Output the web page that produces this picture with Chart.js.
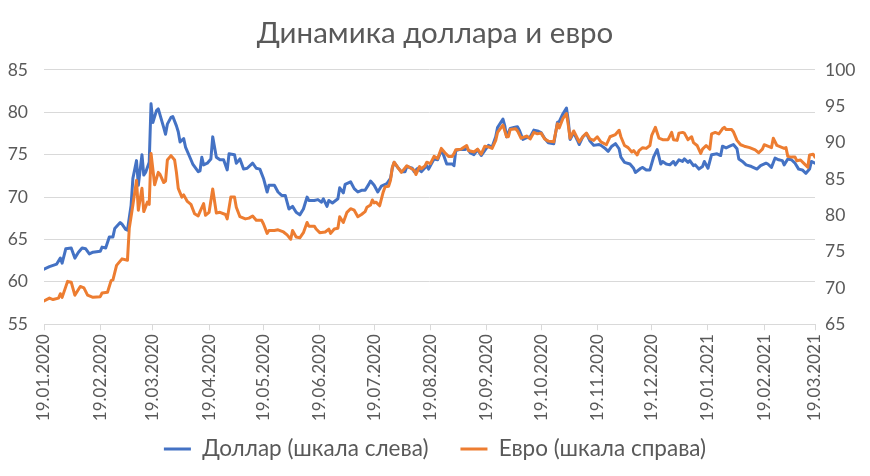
<!DOCTYPE html>
<html><head><meta charset="utf-8">
<script src="https://cdn.jsdelivr.net/npm/chart.js@4.4.1/dist/chart.umd.min.js"></script>
<style>html,body{margin:0;padding:0;background:#fff}</style>
</head><body>
<canvas id="c" width="870" height="476"></canvas>
<script>
// ---- data ----
const chartTitle = 'Динамика доллара и евро';
const seriesNames = ['Доллар (шкала слева)', 'Евро (шкала справа)'];
const startDate = '19.01.2020';
const tickDates = ['19.01.2020','19.02.2020','19.03.2020','19.04.2020','19.05.2020','19.06.2020','19.07.2020',
  '19.08.2020','19.09.2020','19.10.2020','19.11.2020','19.12.2020','19.01.2021','19.02.2021','19.03.2021'];
const leftTicks = [55, 60, 65, 70, 75, 80, 85];
const rightTicks = [65, 70, 75, 80, 85, 90, 95, 100];

// days since 19.01.2020 / USD rate
const usdDays = [0,3,7,9,10,12,15,17,19,21,23,25,27,31,32,34,36,38,39,42,43,45,46,48,49,51,52,54,55,56,58,59,
  60,62,63,66,67,68,70,71,73,74,75,77,78,80,82,85,86,87,88,90,92,93,95,97,99,101,102,105,106,108,110,112,115,117,119,
  121,123,124,127,129,131,133,135,137,139,141,143,145,146,149,151,153,154,156,157,159,162,163,165,166,169,171,173,175,177,179,180,
  182,184,186,189,191,192,193,195,197,199,200,203,204,206,208,211,212,214,215,217,219,220,222,225,226,227,229,232,233,235,237,239,241,243,
  245,247,249,250,253,254,255,257,259,261,262,264,266,268,270,272,274,276,278,281,283,284,286,288,289,290,292,294,295,297,299,301,303,
  306,307,309,311,313,315,317,318,320,323,325,326,329,330,332,334,336,338,340,341,343,345,347,348,350,352,353,355,356,358,359,361,363,364,
  366,368,371,373,374,376,378,380,382,383,385,387,390,393,395,398,399,401,403,405,407,408,410,412,414,416,418,420,422,423,425];
const usdValues = [61.5,61.8,62.1,62.8,62.2,63.9,64.0,62.8,63.5,64.0,63.9,63.3,63.5,63.6,64.1,64.0,65.3,65.3,66.3,67.0,66.8,66.2,66.1,69.0,72.2,74.3,71.4,75.0,72.6,72.9,74.1,81.0,
  78.8,80.2,80.4,78.2,77.4,78.6,79.4,79.5,78.4,77.7,76.5,76.9,75.9,74.9,73.9,73.0,73.1,74.7,73.8,74.0,74.5,77.1,74.7,74.4,74.4,73.2,75.1,75.0,74.0,74.5,73.3,73.4,74.0,73.4,73.3,
  72.2,70.6,71.4,71.4,70.6,70.2,70.2,68.6,68.9,68.2,67.9,68.6,70.0,69.6,69.6,69.7,69.4,69.8,68.9,69.6,69.3,69.8,71.1,70.5,71.5,71.8,71.0,70.6,70.8,70.8,71.5,71.9,
  71.4,70.6,71.3,71.6,72.2,73.4,74.1,73.5,73.0,73.0,73.6,73.4,73.0,73.4,73.0,73.7,73.3,74.1,74.5,74.4,75.5,75.1,73.9,73.9,73.7,75.5,75.6,75.6,75.8,75.2,75.0,75.6,74.9,75.5,
  76.1,75.9,77.1,78.2,79.2,78.4,77.1,78.1,78.2,78.3,77.9,76.8,77.0,77.1,77.9,77.8,77.6,76.9,76.4,76.3,78.8,78.9,79.8,80.5,79.0,76.8,77.6,76.7,76.2,77.1,77.5,76.6,76.1,
  76.2,76.1,75.8,75.4,76.0,76.3,75.7,74.7,74.1,73.9,73.4,72.9,73.4,73.5,73.2,73.2,74.7,75.6,73.9,74.2,73.9,73.8,74.2,73.8,74.4,74.2,74.5,74.1,74.3,73.7,73.8,73.3,73.6,74.2,
  73.4,75.0,75.1,74.9,76.0,75.8,76.0,76.2,75.7,74.5,74.2,73.8,73.6,73.3,73.7,74.0,73.9,73.5,74.6,74.4,74.3,73.8,74.5,74.4,74.0,73.3,73.2,72.8,73.3,74.2,74.0];

// days since 19.01.2020 / EUR rate
const eurDays = [0,3,5,8,9,10,13,15,17,20,22,24,27,31,32,35,37,38,40,43,46,47,49,51,52,54,55,57,58,59,
  61,63,64,66,67,68,70,72,73,74,76,77,79,81,83,85,86,88,89,91,93,95,97,100,101,103,105,106,108,111,113,115,117,120,
  121,123,124,127,129,132,134,136,137,139,141,143,145,146,149,150,152,155,157,158,160,162,163,165,167,169,171,173,175,177,178,180,181,
  182,183,185,187,188,190,191,192,193,195,197,199,200,202,204,205,207,208,210,211,213,215,217,219,221,223,225,226,227,230,233,234,237,239,241,243,
  245,247,249,250,253,255,256,257,260,261,263,266,268,270,272,274,276,278,281,283,284,286,288,289,290,292,294,295,297,299,301,303,
  305,307,310,312,315,317,318,320,322,324,325,327,328,330,332,334,335,337,339,341,344,346,347,349,350,352,353,355,357,358,360,362,363,365,
  367,368,370,372,374,375,376,379,380,382,384,386,389,392,394,396,397,399,401,402,404,406,408,409,410,412,414,415,417,419,421,422,424,425];
const eurValues = [68.2,68.6,68.4,68.6,69.2,68.7,70.9,70.8,69.0,70.2,70.0,69.0,68.7,68.8,69.3,69.4,71.0,71.1,73.1,74.0,73.8,78.2,81.4,84.8,80.7,83.7,80.5,81.8,81.5,88.5,
  84.2,85.9,85.6,84.5,84.7,87.6,88.2,87.6,85.9,83.7,82.5,82.8,81.9,81.5,80.2,79.9,80.5,81.6,80.0,80.4,83.6,80.3,80.4,80.1,79.5,82.5,82.5,81.1,79.8,79.5,79.6,79.9,79.3,79.3,
  78.8,77.5,77.9,77.9,78.0,77.7,77.3,76.7,77.9,77.0,76.9,77.6,79.0,78.5,78.5,78.1,77.6,77.7,78.1,77.5,78.1,78.2,79.8,79.0,80.4,80.9,80.7,79.8,80.1,80.5,81.1,81.4,82.1,
  81.7,81.8,81.3,83.2,83.9,84.0,84.8,86.6,87.3,86.6,85.9,86.5,86.8,86.5,86.2,85.6,86.7,86.4,86.8,87.3,87.1,88.1,87.8,89.2,88.6,88.1,88.1,88.5,89.0,89.1,89.6,88.9,88.7,89.1,88.4,89.5,
  89.4,89.2,90.3,91.4,92.4,90.8,90.8,91.8,91.9,91.6,90.6,90.9,90.5,91.4,91.2,91.3,90.5,90.2,90.1,92.6,92.0,93.3,94.0,92.4,90.6,91.6,90.6,90.1,90.8,91.3,90.5,90.3,
  90.8,90.1,89.7,90.8,91.1,91.7,90.8,89.6,89.3,88.7,88.9,88.3,88.9,89.3,89.2,89.6,91.0,92.1,90.6,90.4,90.4,91.4,90.4,90.3,91.3,91.4,91.3,90.4,90.8,90.0,89.6,88.5,89.1,89.6,
  89.1,91.2,91.4,91.2,91.9,92.1,91.8,91.8,91.5,90.3,89.7,89.5,89.3,89.0,88.6,89.1,89.7,89.5,89.3,90.6,89.6,89.4,89.2,89.3,88.1,88.0,88.0,87.5,87.6,87.1,86.6,88.3,88.4,88.0];

// ---- helpers ----
function dayIndex(s) {
  const [d, m, y] = s.split('.').map(Number);
  const [d0, m0, y0] = startDate.split('.').map(Number);
  return Math.round((Date.UTC(y, m - 1, d) - Date.UTC(y0, m0 - 1, d0)) / 86400000);
}
const tickDays = tickDates.map(dayIndex);
const FONT = "Lato, 'Noto Sans', sans-serif";
const TXT = '#595959';
const GRID = '#D9D9D9';
const BLUE = '#4472C4';
const ORANGE = '#ED7D31';

new Chart(document.getElementById('c'), {
  type: 'line',
  data: {
    datasets: [
      { label: seriesNames[0], data: usdDays.map((d, i) => ({ x: d, y: usdValues[i] })), yAxisID: 'yL',
        borderColor: BLUE, backgroundColor: BLUE, borderWidth: 3, pointRadius: 0, tension: 0, order: 2,
        borderJoinStyle: 'round', borderCapStyle: 'round' },
      { label: seriesNames[1], data: eurDays.map((d, i) => ({ x: d, y: eurValues[i] })), yAxisID: 'yR',
        borderColor: ORANGE, backgroundColor: ORANGE, borderWidth: 3, pointRadius: 0, tension: 0, order: 1,
        borderJoinStyle: 'round', borderCapStyle: 'round' }
    ]
  },
  options: {
    responsive: false,
    animation: false,
    devicePixelRatio: 1,
    layout: { padding: { left: 0, right: 0, top: 0, bottom: 5.75 } },
    scales: {
      x: {
        type: 'linear', min: tickDays[0], max: tickDays[tickDays.length - 1],
        afterBuildTicks: s => { s.ticks = tickDays.map(v => ({ value: v })); },
        afterFit: s => { s.height = 81.5; s._computeLabelArea = () => undefined; },
        ticks: { autoSkip: false, maxRotation: 90, minRotation: 90, padding: 4, color: TXT,
          font: { family: FONT, size: 17 }, callback: (v, i) => tickDates[i] },
        grid: { display: true, drawOnChartArea: false, drawTicks: true, tickLength: 6, color: GRID },
        border: { display: true, color: GRID }
      },
      yL: {
        position: 'left', min: leftTicks[0], max: leftTicks[leftTicks.length - 1],
        afterFit: s => { s.width = 44; },
        afterBuildTicks: s => { s.ticks = leftTicks.map(v => ({ value: v })); },
        ticks: { padding: 16, color: TXT, font: { family: FONT, size: 17.5 } },
        grid: { color: GRID, drawTicks: false },
        border: { display: false }
      },
      yR: {
        position: 'right', min: rightTicks[0], max: rightTicks[rightTicks.length - 1],
        afterFit: s => { s.width = 55; },
        afterBuildTicks: s => { s.ticks = rightTicks.map(v => ({ value: v })); },
        ticks: { padding: 10, color: TXT, font: { family: FONT, size: 17.5 } },
        grid: { display: false, drawTicks: false },
        border: { display: false }
      }
    },
    plugins: {
      title: { display: true, text: chartTitle, color: TXT,
        font: { family: FONT, size: 29.5, weight: 'normal' }, padding: { top: 15.5, bottom: 19 } },
      legend: {
        position: 'bottom',
        labels: {
          boxWidth: 27, boxHeight: 3, padding: 32, color: TXT, font: { family: FONT, size: 22.5 },
          generateLabels: chart => chart.data.datasets.map((ds, i) => ({
            text: ds.label, fillStyle: ds.borderColor, strokeStyle: ds.borderColor, lineWidth: 0,
            datasetIndex: i, hidden: false, fontColor: TXT }))
        }
      },
      tooltip: { enabled: false }
    }
  }
});
</script>
</body></html>
